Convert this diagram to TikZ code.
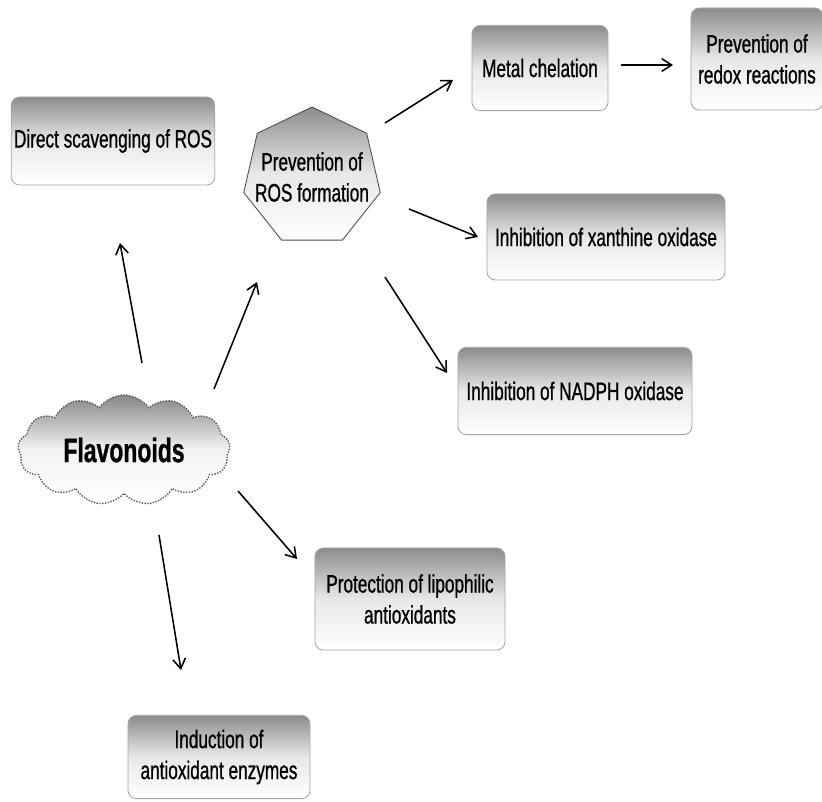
\documentclass[tikz,border=0pt]{standalone}
\usepackage{fontspec}
\setmainfont{Liberation Sans}[FakeStretch=0.68, FakeBold=0.8]
\usetikzlibrary{arrows.meta, shapes.geometric, shapes.symbols}

\begin{document}
\begin{tikzpicture}[x=0.025cm, y=-0.025cm,
    shade/.style={top color=gray!90, bottom color=white, middle color=gray!18},
    box/.style={rectangle, rounded corners=6pt, draw=gray!70, line width=0.6pt, shade,
        font=\fontsize{18}{22}\selectfont, align=center, inner sep=2pt},
    arr/.style={-{Straight Barb[length=7pt,width=9pt]}, line width=1.1pt}]
    \useasboundingbox (0,0) rectangle (822,802);
    \node[box, minimum width=5.08cm, minimum height=2.2cm] (direct) at (113,141) {Direct scavenging of ROS};
    \node[regular polygon, regular polygon sides=7, minimum size=3.5cm, draw=gray!60!black, line width=0.6pt, shade,
        font=\fontsize{18}{22}\selectfont, align=center, inner sep=0pt] (prev) at (312,177)
        {\makebox[1cm]{Prevention of}\\\makebox[1cm]{ROS formation}};
    \node[box, minimum width=3.4cm, minimum height=2.13cm] (metal) at (540,68) {Metal chelation};
    \node[box, minimum width=3.3cm, minimum height=2.55cm] (redox) at (757,59) {Prevention of\\redox reactions};
    \node[box, minimum width=5.95cm, minimum height=2.15cm] (xanth) at (606,237) {Inhibition of xanthine oxidase};
    \node[box, minimum width=5.85cm, minimum height=2.18cm] (nadph) at (575,391) {Inhibition of NADPH oxidase};
    \node[cloud, cloud puffs=13, cloud puff arc=110, aspect=2.2, minimum width=5.3cm, minimum height=2.75cm,
        draw=gray!70!black, densely dotted, line width=1pt,
        top color=gray!95, bottom color=white, middle color=gray!10,
        font=\fontsize{24}{28}\selectfont\bfseries] (flav) at (124,450) {Flavonoids};
    \node[box, minimum width=4.75cm, minimum height=2.55cm] (protect) at (410,599) {Protection of lipophilic\\antioxidants};
    \node[box, minimum width=4.55cm, minimum height=2.08cm] (induce) at (219,757) {Induction of\\antioxidant enzymes};
    \draw[arr] ([shift={(18,-87)}]flav.center) -- ([shift={(7,102)}]direct.center);
    \draw[arr] ([shift={(90,-61)}]flav.center) -- ([shift={(-55,105)}]prev.center);
    \draw[arr] ([shift={(73,-54)}]prev.center) -- ([shift={(-87,12)}]metal.center);
    \draw[arr] ([shift={(81,-3)}]metal.center) -- ([shift={(-84,6)}]redox.center);
    \draw[arr] ([shift={(97,32)}]prev.center) -- ([shift={(-128,0)}]xanth.center);
    \draw[arr] ([shift={(73,100)}]prev.center) -- ([shift={(-128,-18)}]nadph.center);
    \draw[arr] ([shift={(114,41)}]flav.center) -- ([shift={(-113,-40)}]protect.center);
    \draw[arr] ([shift={(35,85)}]flav.center) -- ([shift={(-38,-87)}]induce.center);
\end{tikzpicture}
\end{document}
